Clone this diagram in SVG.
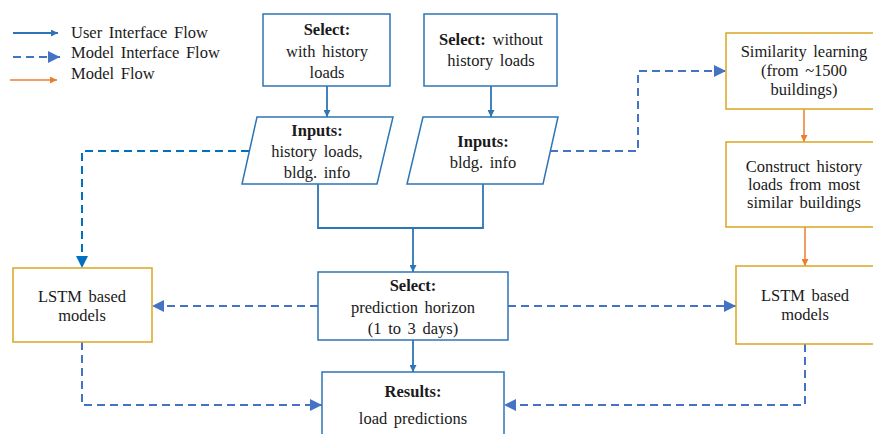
<svg xmlns="http://www.w3.org/2000/svg" width="873" height="434" viewBox="0 0 873 434">
  <defs>
    <marker id="arrUser" viewBox="0 0 10 10" refX="10" refY="5" markerWidth="7" markerHeight="7" markerUnits="userSpaceOnUse" orient="auto">
      <path d="M0,0 L10,5 L0,10 Z" fill="#2E75B6"/>
    </marker>
    <marker id="arrModelIf" viewBox="0 0 10 10" refX="10" refY="5" markerWidth="12" markerHeight="12" markerUnits="userSpaceOnUse" orient="auto">
      <path d="M0,0 L10,5 L0,10 Z" fill="#4472C4"/>
    </marker>
    <marker id="arrModelIfB" viewBox="0 0 10 10" refX="10" refY="5" markerWidth="12" markerHeight="12" markerUnits="userSpaceOnUse" orient="auto">
      <path d="M0,0 L10,5 L0,10 Z" fill="#0070C0"/>
    </marker>
    <marker id="arrModel" viewBox="0 0 10 10" refX="10" refY="5" markerWidth="7" markerHeight="7" markerUnits="userSpaceOnUse" orient="auto">
      <path d="M0,0 L10,5 L0,10 Z" fill="#ED7D31"/>
    </marker>
  </defs>
  <style>
    text { font-size: 16.5px; fill: #1a1a1a; text-anchor: middle; word-spacing: 2.5px; }
    .b { font-weight: bold; }
    .legend { text-anchor: start; }
    .ui { fill: #ffffff; stroke: #2E75B6; stroke-width: 1.5; }
    .mdl { fill: #ffffff; stroke: #DAA520; stroke-width: 1.5; }
    .flowUser { fill: none; stroke: #2E75B6; stroke-width: 1.8; }
    .flowModelIf { fill: none; stroke: #4472C4; stroke-width: 2; stroke-dasharray: 8 5; }
    .flowModelIfB { fill: none; stroke: #0070C0; stroke-width: 2; stroke-dasharray: 8 5; }
    .flowModel { fill: none; stroke: #ED7D31; stroke-width: 1.5; }
  </style>

  <rect width="873" height="434" fill="#ffffff"/>

  <g font-family="'Liberation Serif', Tinos, 'DejaVu Serif', serif">
  <!-- legend -->
  <g id="legend">
    <line x1="13" y1="33" x2="58" y2="33" class="flowUser" marker-end="url(#arrUser)"/>
    <text x="71" y="38" class="legend">User Interface Flow</text>
    <line x1="13" y1="57" x2="60" y2="57" class="flowModelIf" marker-end="url(#arrModelIf)"/>
    <text x="71" y="58" class="legend">Model Interface Flow</text>
    <line x1="10" y1="80" x2="57" y2="80" class="flowModel" marker-end="url(#arrModel)"/>
    <text x="71" y="79" class="legend">Model Flow</text>
  </g>

  <!-- connectors -->
  <g id="connectors">
    <line x1="327" y1="86" x2="327" y2="117" class="flowUser" marker-end="url(#arrUser)"/>
    <line x1="491" y1="86" x2="491" y2="117" class="flowUser" marker-end="url(#arrUser)"/>
    <polyline points="318,184 318,228 483,228 483,184" class="flowUser"/>
    <line x1="413" y1="228" x2="413" y2="272" class="flowUser" marker-end="url(#arrUser)"/>
    <line x1="413" y1="340" x2="413" y2="372" class="flowUser" marker-end="url(#arrUser)"/>

    <polyline points="249,151 82,151 82,268" class="flowModelIfB" marker-end="url(#arrModelIfB)"/>
    <polyline points="550,151 638,151 638,71 726,71" class="flowModelIf" marker-end="url(#arrModelIf)"/>
    <line x1="318" y1="306" x2="152" y2="306" class="flowModelIf" marker-end="url(#arrModelIf)"/>
    <line x1="508" y1="306" x2="736" y2="306" class="flowModelIf" marker-end="url(#arrModelIf)"/>
    <polyline points="82,342 82,405 322,405" class="flowModelIf" marker-end="url(#arrModelIf)"/>
    <polyline points="805,344 805,405 504,405" class="flowModelIf" marker-end="url(#arrModelIf)"/>

    <line x1="804" y1="109" x2="804" y2="142" class="flowModel" marker-end="url(#arrModel)"/>
    <line x1="805" y1="227" x2="805" y2="266" class="flowModel" marker-end="url(#arrModel)"/>
  </g>

  <g id="select-history">
    <rect x="263" y="14" width="127" height="72" class="ui"/>
    <text x="327" y="35" class="b">Select:</text>
    <text x="327" y="57">with history</text>
    <text x="327" y="78">loads</text>
  </g>

  <g id="select-no-history">
    <rect x="424" y="14" width="133" height="72" class="ui"/>
    <text x="491" y="45"><tspan class="b">Select:</tspan> without</text>
    <text x="491" y="66">history loads</text>
  </g>

  <g id="inputs-history">
    <polygon points="257,117 393,117 377,184 242,184" class="ui"/>
    <text x="317" y="136" class="b">Inputs:</text>
    <text x="317" y="157">history loads,</text>
    <text x="317" y="178">bldg. info</text>
  </g>

  <g id="inputs-bldg">
    <polygon points="423,117 558,117 543,184 407,184" class="ui"/>
    <text x="483" y="147" class="b">Inputs:</text>
    <text x="483" y="168">bldg. info</text>
  </g>

  <g id="similarity">
    <rect x="726" y="33" width="156" height="76" class="mdl"/>
    <text x="804" y="57">Similarity learning</text>
    <text x="804" y="76">(from ~1500</text>
    <text x="804" y="95">buildings)</text>
  </g>

  <g id="construct">
    <rect x="726" y="142" width="156" height="85" class="mdl"/>
    <text x="804" y="172">Construct history</text>
    <text x="804" y="190">loads from most</text>
    <text x="804" y="208">similar buildings</text>
  </g>

  <g id="lstm-left">
    <rect x="13" y="268" width="139" height="74" class="mdl"/>
    <text x="82" y="302">LSTM based</text>
    <text x="82" y="321">models</text>
  </g>

  <g id="select-horizon">
    <rect x="318" y="272" width="190" height="68" class="ui"/>
    <text x="413" y="291" class="b">Select:</text>
    <text x="413" y="313">prediction horizon</text>
    <text x="413" y="334">(1 to 3 days)</text>
  </g>

  <g id="lstm-right">
    <rect x="736" y="266" width="146" height="78" class="mdl"/>
    <text x="805" y="301">LSTM based</text>
    <text x="805" y="320">models</text>
  </g>

  <g id="results">
    <rect x="322" y="372" width="182" height="70" class="ui"/>
    <text x="413" y="397" class="b">Results:</text>
    <text x="413" y="424">load predictions</text>
  </g>
  </g>
</svg>
